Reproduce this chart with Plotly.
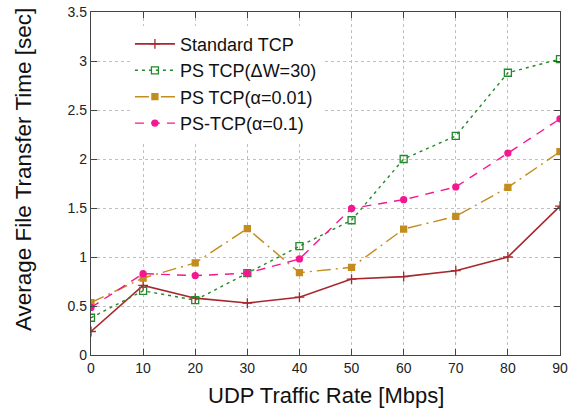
import plotly.graph_objects as go

udp_rate = [0, 10, 20, 30, 40, 50, 60, 70, 80, 90]
standard_tcp = [0.24, 0.71, 0.58, 0.53, 0.59, 0.775, 0.80, 0.86, 1.00, 1.52]
ps_tcp_dw30 = [0.38, 0.655, 0.56, 0.835, 1.11, 1.375, 2.00, 2.235, 2.88, 3.02]
ps_tcp_a001 = [0.535, 0.785, 0.94, 1.29, 0.84, 0.895, 1.285, 1.415, 1.71, 2.075]
ps_tcp_a01 = [0.485, 0.83, 0.81, 0.835, 0.98, 1.495, 1.585, 1.715, 2.06, 2.41]

y_ticks = [0, 0.5, 1, 1.5, 2, 2.5, 3, 3.5]
y_tick_labels = ["0", "0.5", "1", "1.5", "2", "2.5", "3", "3.5"]
x_ticks = udp_rate

x_title = "UDP Traffic Rate [Mbps]"
y_title = "Average File Transfer Time [sec]"

series = [
    ("Standard TCP", standard_tcp, "#a8272c", "solid", "cross-thin", 7, 1.6),
    ("PS TCP(ΔW=30)", ps_tcp_dw30, "#23892a", "3px,4px", "square-open", 7, 1.4),
    ("PS TCP(α=0.01)", ps_tcp_a001, "#c38c1c", "14px,5px,2px,5px", "square", 6, 1.4),
    ("PS-TCP(α=0.1)", ps_tcp_a01, "#f5178f", "9px,7px", "circle", 6, 1.4),
]

fig = go.Figure()
for name, vals, color, dash, sym, msize, lw in series:
    fig.add_trace(go.Scatter(
        x=udp_rate, y=vals, name=name, mode="lines+markers",
        line=dict(color=color, width=lw, dash=dash),
        marker=dict(symbol=sym, size=msize, color=color,
                    line=dict(color=color, width=1.3)),
    ))

axis_common = dict(
    showgrid=True, gridcolor="#c0c0c0", griddash="dot", gridwidth=1,
    showline=True, linecolor="#444444", linewidth=1.3, mirror="ticks",
    ticks="inside", ticklen=6, tickcolor="#444444", zeroline=False,
    automargin=False,
    tickfont=dict(family="Liberation Sans, Arial, sans-serif", size=14, color="#222222"),
)

fig.update_layout(
    width=578, height=412,
    margin=dict(l=91, r=18, t=12, b=57),
    paper_bgcolor="white", plot_bgcolor="white",
    font=dict(family="Liberation Sans, Arial, sans-serif", color="#111111"),
    xaxis=dict(range=[0, 90], tickvals=x_ticks, **axis_common),
    yaxis=dict(range=[0, 3.5], tickvals=y_ticks, ticktext=y_tick_labels, **axis_common),
    legend=dict(x=0.083, y=0.96, xanchor="left", yanchor="top",
                bgcolor="rgba(255,255,255,1)", borderwidth=0,
                font=dict(size=18, color="#111111"),
                tracegroupgap=0, itemwidth=40),
    showlegend=True,
    annotations=[
        dict(text=x_title, xref="paper", yref="paper", x=0.501, y=-0.118,
             xanchor="center", yanchor="middle", showarrow=False,
             font=dict(size=22, color="#111111")),
        dict(text=y_title, xref="paper", yref="paper", x=-0.145, y=0.542,
             xanchor="center", yanchor="middle", showarrow=False, textangle=-90,
             font=dict(size=22.5, color="#111111")),
    ],
)

fig.write_html("out.html", config={"displayModeBar": False},
               post_script="document.body.style.margin='0px';document.body.style.overflow='hidden';")
